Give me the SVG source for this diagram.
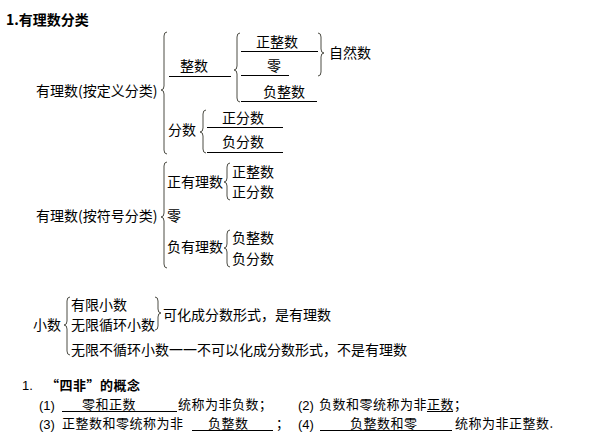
<svg xmlns="http://www.w3.org/2000/svg" width="593" height="435" viewBox="0 0 593 435">
<style>
text{font-family:"Noto Sans CJK SC","Noto Sans",sans-serif;font-size:14px;fill:#000}
.b{font-weight:bold}
.s{font-size:13px;letter-spacing:0.5px}
.n{font-family:"Liberation Sans",sans-serif;font-size:13px}
.br{fill:none;stroke:#4d4d45;stroke-width:1}
.ul{stroke:#000;stroke-width:1}
</style>
<rect width="593" height="435" fill="#fff"/>
<text id="title" class="b" x="6" y="25">1.有理数分类</text>

<g id="def">
<text x="36" y="96">有理数(按定义分类)</text>
<g id="zhengshu"><text x="180" y="71">整数</text><line class="ul" x1="169" y1="76.5" x2="231" y2="76.5"/></g>
<g id="zzs"><text x="256" y="47">正整数</text><line class="ul" x1="241" y1="51.5" x2="318" y2="51.5"/></g>
<g id="ling1"><text x="267" y="71">零</text><line class="ul" x1="241" y1="75.5" x2="289" y2="75.5"/></g>
<g id="fzs"><text x="263" y="97">负整数</text><line class="ul" x1="241" y1="101.5" x2="317" y2="101.5"/></g>
<g id="zrs"><text x="329" y="58">自然数</text></g>
<g id="fenshu"><text x="168" y="135">分数</text></g>
<g id="zfs"><text x="222" y="123">正分数</text><line class="ul" x1="207" y1="127.5" x2="283" y2="127.5"/></g>
<g id="ffs"><text x="222" y="147">负分数</text><line class="ul" x1="207" y1="152.5" x2="283" y2="152.5"/></g>
</g>

<g id="sign">
<text x="36" y="221">有理数(按符号分类)</text>
<g id="zyls"><text x="167" y="187">正有理数</text></g>
<g id="zzs2"><text x="232" y="177">正整数</text></g>
<g id="zfs2"><text x="232" y="197">正分数</text></g>
<g id="ling2"><text x="167" y="221">零</text></g>
<g id="fyls"><text x="167" y="252">负有理数</text></g>
<g id="fzs2"><text x="232" y="243">负整数</text></g>
<g id="ffs2"><text x="232" y="264">负分数</text></g>
</g>

<g id="decimal">
<text x="33" y="330">小数</text>
<text x="71" y="310">有限小数</text>
<text x="71" y="330">无限循环小数</text>
<text x="163" y="320">可化成分数形式，是有理数</text>
<text x="71" y="355">无限不循环小数一一不可以化成分数形式，不是有理数</text>
</g>

<g id="braces" class="br">
<path d="M167,32 Q164,32 164,36 L164,86 Q164,90 161,90 Q164,90 164,94 L164,150 Q164,154 167,154"/>
<path d="M240,33 Q237,33 237,37 L237,66 Q237,70 234,70 Q237,70 237,74 L237,98 Q237,102 240,102"/>
<path d="M318,33 Q321,33 321,37 L321,49 Q321,53 324,53 Q321,53 321,57 L321,72 Q321,76 318,76"/>
<path d="M206,110 Q203,110 203,114 L203,128 Q203,132 200,132 Q203,132 203,136 L203,149 Q203,153 206,153"/>
<path d="M167,162 Q164,162 164,166 L164,213 Q164,217 161,217 Q164,217 164,221 L164,264 Q164,268 167,268"/>
<path d="M230,163 Q227,163 227,167 L227,178 Q227,182 224,182 Q227,182 227,186 L227,196 Q227,200 230,200"/>
<path d="M230,230 Q227,230 227,234 L227,244 Q227,248 224,248 Q227,248 227,252 L227,263 Q227,267 230,267"/>
<path d="M70,297 Q67,297 67,301 L67,321 Q67,325 64,325 Q67,325 67,329 L67,351 Q67,355 70,355"/>
<path d="M155,297 Q158,297 158,301 L158,309 Q158,313 161,313 Q158,313 158,317 L158,326 Q158,330 155,330"/>
</g>

<g id="sifei">
<text class="n" x="22" y="390">1.</text>
<text class="b s" x="46" y="390">“四非”的概念</text>
<text class="n" x="39" y="410">(1)</text>
<line class="ul" x1="62" y1="411.5" x2="177" y2="411.5"/>
<text class="s" x="82" y="409">零和正数</text>
<text class="s" x="178" y="409">统称为非负数；</text>
<text class="n" x="298" y="410">(2)</text>
<text class="s" x="319" y="409">负数和零统称为非正数；</text>
<line class="ul" x1="427" y1="411.5" x2="453" y2="411.5"/>
<text class="n" x="39" y="429">(3)</text>
<text class="s" x="62" y="428">正整数和零统称为非</text>
<line class="ul" x1="192" y1="430.5" x2="273" y2="430.5"/>
<text class="s" x="208" y="428">负整数</text>
<text class="s" x="276" y="428">；</text>
<text class="n" x="298" y="429">(4)</text>
<line class="ul" x1="320" y1="430.5" x2="452" y2="430.5"/>
<text class="s" x="350" y="428">负整数和零</text>
<text class="s" x="455" y="428">统称为非正整数.</text>
</g>
</svg>
